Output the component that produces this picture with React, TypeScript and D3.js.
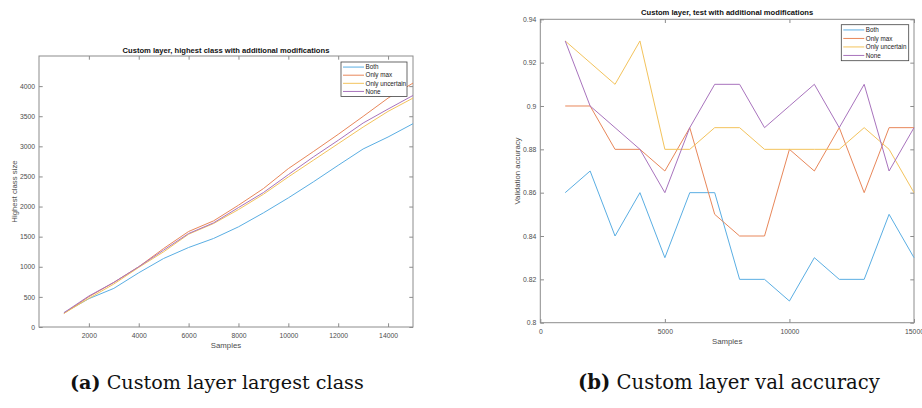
import { useEffect, useRef } from 'react';
import * as d3 from 'd3';

// samples on the x axis (shared by both panels)
const samples = [1000, 2000, 3000, 4000, 5000, 6000, 7000, 8000, 9000, 10000, 11000, 12000, 13000, 14000, 15000];
const seriesNames = ['Both', 'Only max', 'Only uncertain', 'None'];
const seriesColors = ['#5aaee3', '#e8875a', '#f3c35c', '#a873bd'];

// (a) highest class size
const sizeBoth = [237, 470, 641, 900, 1138, 1320, 1470, 1663, 1895, 2144, 2409, 2685, 2956, 3155, 3376];
const sizeOnlyMax = [226, 503, 740, 1000, 1304, 1586, 1762, 2022, 2298, 2630, 2912, 3199, 3497, 3801, 4050];
const sizeOnlyUncertain = [226, 475, 713, 989, 1249, 1541, 1718, 1950, 2204, 2492, 2768, 3044, 3320, 3580, 3801];
const sizeNone = [237, 514, 740, 1000, 1276, 1552, 1729, 1983, 2232, 2530, 2823, 3100, 3387, 3619, 3845];
const sizeTicksX = [2000, 4000, 6000, 8000, 10000, 12000, 14000];
const sizeTicksY = [0, 500, 1000, 1500, 2000, 2500, 3000, 3500, 4000];

// (b) validation accuracy
const accBoth = [0.86, 0.87, 0.84, 0.86, 0.83, 0.86, 0.86, 0.82, 0.82, 0.81, 0.83, 0.82, 0.82, 0.85, 0.83];
const accOnlyMax = [0.90, 0.90, 0.88, 0.88, 0.87, 0.89, 0.85, 0.84, 0.84, 0.88, 0.87, 0.89, 0.86, 0.89, 0.89];
const accOnlyUncertain = [0.93, 0.92, 0.91, 0.93, 0.88, 0.88, 0.89, 0.89, 0.88, 0.88, 0.88, 0.88, 0.89, 0.88, 0.86];
const accNone = [0.93, 0.90, 0.89, 0.88, 0.86, 0.89, 0.91, 0.91, 0.89, 0.90, 0.91, 0.89, 0.91, 0.87, 0.89];
const accTicksX = [0, 5000, 10000, 15000];
const accTicksY = [0.8, 0.82, 0.84, 0.86, 0.88, 0.9, 0.92, 0.94];

const FONT = '"Liberation Sans", Arial, sans-serif';
const AXIS_COLOR = '#8c8c8c';
const TEXT_COLOR = '#4d4d4d';

type Panel = {
  title: string;
  ylabel: string;
  box: { x0: number; x1: number; y0: number; y1: number };
  xDomain: [number, number];
  yDomain: [number, number];
  xTicks: number[];
  yTicks: number[];
  series: number[][];
  legend: { x0: number; x1: number; y0: number; y1: number };
  titleY: number;
  xLabelY: number;
  yLabelX: number;
};

function drawPanel(svg: d3.Selection<SVGSVGElement, unknown, null, undefined>, p: Panel) {
  const { x0, x1, y0, y1 } = p.box;
  const x = d3.scaleLinear().domain(p.xDomain).range([x0, x1]);
  const y = d3.scaleLinear().domain(p.yDomain).range([y1, y0]);
  const g = svg.append('g');
  const tick = 3.7;
  const fmt = (d: number) => String(+d.toFixed(2));

  const styleAxis = (sel: any, showText: boolean) => {
    sel.select('.domain').remove();
    sel.selectAll('line').attr('stroke', AXIS_COLOR);
    sel.selectAll('text')
      .attr('fill', TEXT_COLOR)
      .style('font-family', FONT)
      .style('font-size', '6.8px');
    if (!showText) sel.selectAll('text').remove();
  };

  g.append('g').attr('transform', `translate(0,${y1})`)
    .call(d3.axisBottom(x).tickValues(p.xTicks).tickSize(-tick).tickPadding(6).tickFormat(fmt as any))
    .call((s: any) => styleAxis(s, true));
  g.append('g').attr('transform', `translate(0,${y0})`)
    .call(d3.axisTop(x).tickValues(p.xTicks).tickSize(-tick))
    .call((s: any) => styleAxis(s, false));
  g.append('g').attr('transform', `translate(${x0},0)`)
    .call(d3.axisLeft(y).tickValues(p.yTicks).tickSize(-tick).tickPadding(4).tickFormat(fmt as any))
    .call((s: any) => styleAxis(s, true));
  g.append('g').attr('transform', `translate(${x1},0)`)
    .call(d3.axisRight(y).tickValues(p.yTicks).tickSize(-tick))
    .call((s: any) => styleAxis(s, false));

  g.append('rect')
    .attr('x', x0).attr('y', y0)
    .attr('width', x1 - x0).attr('height', y1 - y0)
    .attr('fill', 'none').attr('stroke', AXIS_COLOR).attr('stroke-width', 1);

  const line = d3.line<number>()
    .x((_, i) => x(samples[i]))
    .y(d => y(d));

  p.series.forEach((vals, i) => {
    g.append('path')
      .datum(vals)
      .attr('fill', 'none')
      .attr('stroke', seriesColors[i])
      .attr('stroke-width', 1)
      .attr('d', line);
  });

  // title and labels
  g.append('text')
    .attr('x', (x0 + x1) / 2).attr('y', p.titleY)
    .attr('text-anchor', 'middle')
    .style('font-family', FONT).style('font-size', '7.6px').style('font-weight', 'bold')
    .attr('fill', '#111')
    .text(p.title);
  g.append('text')
    .attr('x', (x0 + x1) / 2).attr('y', p.xLabelY)
    .attr('text-anchor', 'middle')
    .style('font-family', FONT).style('font-size', '7.8px')
    .attr('fill', TEXT_COLOR)
    .text('Samples');
  g.append('text')
    .attr('transform', `translate(${p.yLabelX},${(y0 + y1) / 2}) rotate(-90)`)
    .attr('text-anchor', 'middle')
    .style('font-family', FONT).style('font-size', '7.8px')
    .attr('fill', TEXT_COLOR)
    .text(p.ylabel);

  // legend
  const L = p.legend;
  g.append('rect')
    .attr('x', L.x0).attr('y', L.y0)
    .attr('width', L.x1 - L.x0).attr('height', L.y1 - L.y0)
    .attr('fill', 'white').attr('stroke', '#444').attr('stroke-width', 0.8);
  const rowH = (L.y1 - L.y0 - 2) / seriesNames.length;
  seriesNames.forEach((name, i) => {
    const cy = L.y0 + 1 + rowH * (i + 0.5);
    g.append('line')
      .attr('x1', L.x0 + 2).attr('x2', L.x0 + 23)
      .attr('y1', cy).attr('y2', cy)
      .attr('stroke', seriesColors[i]).attr('stroke-width', 1);
    g.append('text')
      .attr('x', L.x0 + 24.5).attr('y', cy + 2.3)
      .style('font-family', FONT).style('font-size', '6.3px')
      .attr('fill', '#222')
      .text(name);
  });
}

export default function App() {
  const svgRef = useRef<SVGSVGElement>(null);

  useEffect(() => {
    const svg = d3.select(svgRef.current!);
    svg.selectAll('*').remove();

    drawPanel(svg, {
      title: 'Custom layer, highest class with additional modifications',
      ylabel: 'Highest class size',
      box: { x0: 39, x1: 413, y0: 56, y1: 327 },
      xDomain: [0, 15000],
      yDomain: [0, 4500],
      xTicks: sizeTicksX,
      yTicks: sizeTicksY,
      series: [sizeBoth, sizeOnlyMax, sizeOnlyUncertain, sizeNone],
      legend: { x0: 341, x1: 407, y0: 62, y1: 96.5 },
      titleY: 52.5,
      xLabelY: 348,
      yLabelX: 16.5,
    });

    drawPanel(svg, {
      title: 'Custom layer, test with additional modifications',
      ylabel: 'Validation accuracy',
      box: { x0: 540.3, x1: 914, y0: 19.3, y1: 322.7 },
      xDomain: [0, 15000],
      yDomain: [0.8, 0.94],
      xTicks: accTicksX,
      yTicks: accTicksY,
      series: [accBoth, accOnlyMax, accOnlyUncertain, accNone],
      legend: { x0: 841.3, x1: 908.7, y0: 24.7, y1: 60.7 },
      titleY: 15,
      xLabelY: 344,
      yLabelX: 519.5,
    });

    // captions, font size fitted to the width they take in the figure
    const captions = [
      { x: 70, width: 294, label: '(a)', text: ' Custom layer largest class' },
      { x: 578, width: 302, label: '(b)', text: ' Custom layer val accuracy' },
    ];
    captions.forEach(c => {
      const t = svg.append('text')
        .attr('x', c.x).attr('y', 389)
        .style('font-family', '"DejaVu Serif", "Liberation Serif", serif')
        .style('font-size', '17px')
        .attr('fill', '#111');
      t.append('tspan').style('font-weight', 'bold').text(c.label);
      t.append('tspan').text(c.text);
      const w = (t.node() as SVGTextElement).getComputedTextLength();
      if (w > 0) t.style('font-size', `${(17 * c.width) / w}px`);
    });
  }, []);

  return (
    <svg
      ref={svgRef}
      width={922}
      height={408}
      style={{ position: 'absolute', left: 0, top: 0, background: 'white' }}
    />
  );
}
